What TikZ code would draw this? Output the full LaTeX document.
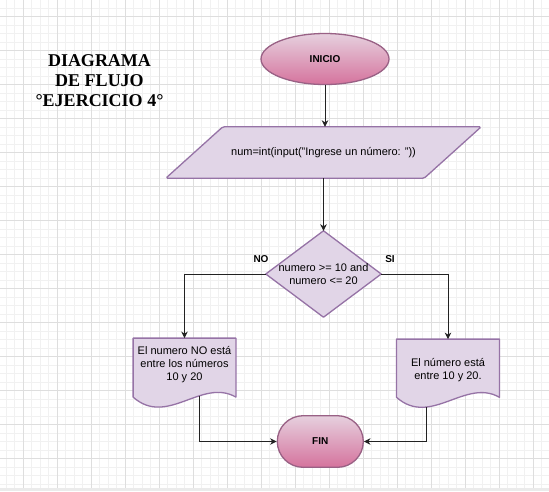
\documentclass[tikz,border=0pt]{standalone}
\usepackage{fontspec}
\setmainfont{Liberation Sans}
\newfontfamily\titlefont{Liberation Serif}
\usetikzlibrary{shapes.geometric,shapes.misc,arrows.meta,calc}
\pgfdeclarelayer{gridlayer}
\pgfdeclarelayer{shapelayer}
\pgfsetlayers{gridlayer,shapelayer,main}
\definecolor{minorgrid}{HTML}{F1F1F1}
\definecolor{majorgrid}{HTML}{DEDEDE}
\definecolor{bandgray}{HTML}{EBEBEB}
\definecolor{purfill}{HTML}{E1D5E7}
\definecolor{purline}{HTML}{9673A6}
\definecolor{pinktop}{HTML}{E6D0DE}
\definecolor{pinkbot}{HTML}{D5739D}
\definecolor{pinkline}{HTML}{996185}
\definecolor{conn}{HTML}{222222}
\tikzset{
  txt/.style={font=\fontsize{11}{13}\selectfont, align=center, inner sep=0pt},
  boldtxt/.style={font=\fontsize{10}{12}\selectfont\bfseries, inner sep=0pt},
  purshape/.style={fill=purfill, draw=purline, line width=1.3pt, line join=round},
  pinkshape/.style={top color=pinktop, bottom color=pinkbot, draw=pinkline, line width=1.3pt},
  flow/.style={draw=conn, line width=1pt, -{Stealth[length=6.5pt,width=6.5pt,inset=2pt]}},
  minorline/.style={draw=minorgrid, line width=0.8pt},
  majorline/.style={draw=majorgrid, line width=0.9pt},
}
\begin{document}
\begin{tikzpicture}[x=1pt,y=-1pt]
\useasboundingbox (0,0) rectangle (549,491);
\begin{pgfonlayer}{gridlayer}
  \fill[white] (0,0) rectangle (549,491);
  \foreach \i in {0,...,64} {\draw[minorline] ({6.3+8.5*\i},0) -- ({6.3+8.5*\i},488);}
  \foreach \j in {0,...,56} {\draw[minorline] (0,{8.2+8.5*\j}) -- (549,{8.2+8.5*\j});}
  \foreach \i in {0,...,15} {\draw[majorline] ({23.3+34*\i},0) -- ({23.3+34*\i},488);}
  \foreach \j in {0,...,13} {\draw[majorline] (0,{16.7+34*\j}) -- (549,{16.7+34*\j});}
  \fill[bandgray] (0,488) rectangle (549,491);
\end{pgfonlayer}

% title
\node[font=\titlefont\fontsize{18}{20}\selectfont\bfseries, align=center, inner sep=0pt] (title) at (99.5,80.5) {DIAGRAMA\\DE FLUJO\\°EJERCICIO 4°};

% nodes
\node[pinkshape, ellipse, minimum width=128, minimum height=51, boldtxt] (ini) at (325,59) {INICIO};
\node[txt, minimum width=315, minimum height=51] (inp) at (323.5,152.5) {num=int(input("Ingrese un número: "))};
\node[txt, minimum width=115, minimum height=86] (dec) at (323.5,274) {numero >= 10 and\\numero <= 20};
\node[txt, minimum width=102.4, minimum height=53.4] (docL) at (184.5,365) {El numero NO está\\entre los números\\10 y 20};
\node[txt, minimum width=102.6, minimum height=61.4] (docR) at (448,370) {El número está\\entre 10 y 20.};
\node[pinkshape, rounded rectangle, minimum width=86, minimum height=51.6, boldtxt] (fin) at (320.3,441.5) {FIN};
\node[boldtxt] (no) at (261,259) {NO};
\node[boldtxt] (si) at (390,259) {SI};

% shapes behind the texts
\begin{pgfonlayer}{shapelayer}
  \path[purshape, rounded corners=1.5pt] ($(inp.north west)+(57,0)$) -- (inp.north east) -- ($(inp.south east)+(-57,0)$) -- (inp.south west) -- cycle;
  \path[purshape] (dec.north) -- (dec.east) -- (dec.south) -- (dec.west) -- cycle;
  \path[purshape] (docL.north west) -- (docL.north east) -- ($(docL.north east)+(0,59)$)
     .. controls ($(docL.north east)+(-34.13,39.4)$) and ($(docL.north west)+(34.13,89.2)$) .. ($(docL.north west)+(0,59)$)
     coordinate[pos=0.356] (outL) -- cycle;
  \path[purshape] (docR.north west) -- (docR.north east) -- ($(docR.north east)+(0,58.2)$)
     .. controls ($(docR.north east)+(-34.2,38.6)$) and ($(docR.north west)+(34.2,88.4)$) .. ($(docR.north west)+(0,58.2)$)
     coordinate[pos=0.706] (outR) -- cycle;
\end{pgfonlayer}

% connectors
\draw[flow] (ini.south) -- (ini.south |- inp.north);
\draw[flow] (inp.south) -- (dec.north);
\draw[flow] (dec.west) -| (docL.north);
\draw[flow] (dec.east) -| (docR.north);
\draw[flow] (outL) |- (fin.west);
\draw[flow] (outR) |- (fin.east);
\end{tikzpicture}
\end{document}
